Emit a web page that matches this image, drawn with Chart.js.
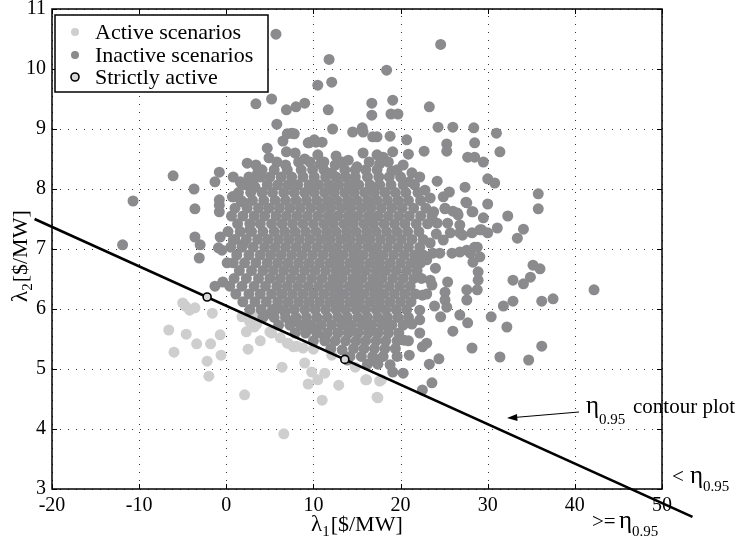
<!DOCTYPE html>
<html>
<head>
<meta charset="utf-8">
<script src="https://cdn.jsdelivr.net/npm/chart.js@4/dist/chart.umd.min.js"></script>
<style>
  html, body { margin: 0; padding: 0; background: #fff; }
  #wrap { width: 739px; height: 543px; }
</style>
</head>
<body>
<div id="wrap"><canvas id="chart" width="739" height="543"></canvas></div>
<script>
// Axis ticks
const xTicks = [-20, -10, 0, 10, 20, 30, 40, 50];
const yTicks = [3, 4, 5, 6, 7, 8, 9, 10, 11];

// Inactive scenarios: scattered points around the cloud
const inactiveOuter = [
    [5.7,10.58],[11.8,10.16],[10.5,9.73],[12.1,9.78],[3.4,9.42],[5.2,9.5],[6.9,9.32],[8.0,9.37],
    [9.0,9.43],[11.7,9.32],[5.8,9.08],[12.2,9.0],[14.5,8.95],[15.6,9.02],[7.0,8.92],[7.8,8.92],
    [6.5,8.8],[4.7,8.68],[9.5,8.77],[10.3,8.78],[11.0,8.78],[6.9,8.62],[7.9,8.6],[10.5,8.57],
    [2.4,8.43],[5.8,8.45],[-6.1,8.22],[-0.8,8.28],[-3.7,8.0],[-1.3,8.12],[0.8,8.2],[1.6,8.12],
    [3.4,8.4],[3.6,8.27],[-10.7,7.8],[-3.6,7.67],[-0.8,7.82],[-0.8,7.73],[-0.8,7.62],[0.8,7.87],
    [1.9,7.78],[-11.9,7.07],[-3.6,7.2],[-3.0,7.07],[-3.1,6.85],[-0.7,7.2],[-0.9,7.02],[0.1,6.77],
    [0.8,7.15],[1.9,7.07],[2.7,7.32],[-1.3,6.38],[-0.4,6.45],[-0.5,6.98],
    [7.5,8.93],[10.1,8.82],[9.4,8.77],[14.0,8.48],[15.0,8.37],[12.5,8.4],[12.1,8.27],[1.7,8.1],
    [3.3,8.03],[0.7,7.87],[15.7,8.95],[16.8,8.87],[15.7,8.6],[17.3,8.57],[18.0,8.53],
    [24.6,10.41],[18.4,9.98],[19.1,9.48],[18.9,9.25],[19.7,9.25],[23.3,9.37],[16.7,9.43],[16.7,9.23],
    [24.3,9.03],[26.0,9.03],[28.4,9.02],[31.0,8.93],[18.8,8.88],[17.3,8.87],[20.7,8.82],[25.3,8.75],
    [25.3,8.63],[28.5,8.77],[22.7,8.63],[20.9,8.58],[19.1,8.62],[31.4,8.62],[27.7,8.53],[28.5,8.53],
    [29.5,8.45],[20.3,8.4],[21.3,8.27],[22.2,8.2],[24.2,8.13],[30.0,8.17],[30.8,8.1],[27.4,8.03],
    [25.6,7.95],[24.9,7.87],[35.8,7.92],[35.8,7.67],[23.4,7.85],[27.5,7.78],[30.0,7.75],[25.1,7.67],
    [26.0,7.63],[26.6,7.57],[28.2,7.62],[32.3,7.55],[29.5,7.52],[25.4,7.43],[34.1,7.33],[33.4,7.18],
    [31.1,7.35],[29.3,7.32],[30.0,7.27],[26.8,7.4],[27.1,7.23],[28.8,7.03],[28.0,6.93],[35.2,6.73],
    [36.0,6.67],[32.9,6.48],[34.9,6.53],
    [25.1,7.68],[26.5,7.6],[27.6,7.77],[28.3,7.62],[29.1,7.32],[28.2,7.27],[26.8,7.27],[24.2,7.43],
    [25.7,7.27],[24.9,7.15],[23.4,7.1],[23.7,6.93],[24.5,6.93],[25.9,6.93],[26.8,6.95],[27.6,6.98],
    [28.5,7.03],[29.1,6.87],[28.3,6.78],[28.9,6.62],[28.9,6.48],[28.8,6.32],[27.6,6.32],[27.6,6.15],
    [25.4,6.45],[25.1,6.28],[25.1,6.15],[25.3,6.03],[23.0,6.82],[24.0,6.68],[23.4,6.48],[23.6,6.4],
    [22.5,6.23],[22.2,5.98],[22.2,5.82],
    [42.2,6.32],[37.5,6.17],[36.2,6.13],[32.9,6.13],[31.8,6.05],[34.1,6.42],[30.4,5.87],[32.2,5.7],
    [36.2,5.38],[31.4,5.2],[34.7,5.15],[28.2,5.35],[27.7,5.77],[26.8,5.9],[26.0,5.63],[24.6,5.87],
    [24.4,5.17],[23.3,5.08],[23.6,4.77],[22.5,4.65],
    [21.0,5.23],[20.3,4.93],[19.1,4.95],[18.8,5.07],[17.3,5.1],[23.0,5.43],[22.5,5.37],[22.2,5.6],
    [9.0,5.7],[7.9,5.82],[10.2,5.65],[11.3,5.53],[13.3,5.32],[4.4,5.9],[5.6,5.98],[6.7,5.95],
    [4.9,8.52],[6.8,8.4],[9.0,8.5],[10.8,8.42],[12.6,8.55],[17.6,8.42],[19.0,8.3],[3.1,8.15],
    [21.0,8.12],[22.8,7.98],[23.8,7.62],[24.1,7.25],[23.9,6.05],[21.3,5.75],[20.4,5.48],[13.9,5.15]
];

// Inactive scenarios: dense core, read row by row (lambda2 level, lambda1 values)
const coreRowY = [8.45, 8.32, 8.2, 8.07, 7.94, 7.81, 7.68, 7.55, 7.42, 7.29, 7.16, 7.03, 6.9,
                  6.77, 6.64, 6.51, 6.38, 6.25, 6.12, 5.99, 5.86, 5.73, 5.6, 5.47, 5.34, 5.21, 5.08];
const coreRowX = [
    [8.3, 9.6, 11.2, 13.3, 16.4, 18.6],
    [4.1, 5.5, 7.0, 8.6, 9.9, 11.2, 13.6, 14.8, 16.0, 17.3, 19.6],
    [2.6, 3.9, 5.0, 6.3, 7.5, 8.8, 10.1, 11.4, 12.6, 13.7, 14.8, 16.2, 17.5, 18.7, 20.0],
    [2.2, 4.7, 5.9, 7.1, 8.2, 9.5, 10.6, 11.8, 12.9, 14.1, 15.2, 16.5, 17.6, 18.9, 20.3, 21.6],
    [1.4, 2.8, 4.1, 5.3, 6.6, 7.8, 9.0, 10.1, 11.3, 12.4, 13.6, 14.7, 15.9, 17.0, 18.2, 19.4, 20.6, 22.0],
    [1.7, 3.0, 4.3, 5.6, 6.8, 8.0, 9.2, 10.4, 11.6, 12.7, 13.9, 15.0, 16.2, 17.3, 18.5, 19.7, 20.9, 22.3],
    [1.0, 2.4, 3.7, 4.9, 6.1, 7.3, 8.5, 9.7, 10.9, 12.0, 13.2, 14.3, 15.5, 16.6, 17.8, 19.0, 20.2, 21.5, 22.9],
    [0.6, 1.9, 3.2, 4.4, 5.7, 6.9, 8.1, 9.3, 10.5, 11.7, 12.8, 14.0, 15.1, 16.3, 17.4, 18.6, 19.8, 21.0, 22.3, 23.6],
    [1.3, 2.7, 3.9, 5.2, 6.4, 7.6, 8.8, 10.0, 11.2, 12.3, 13.5, 14.6, 15.8, 16.9, 18.1, 19.3, 20.5, 21.8, 23.1],
    [0.2, 1.6, 2.9, 4.2, 5.5, 6.7, 7.9, 9.1, 10.3, 11.5, 12.6, 13.8, 14.9, 16.1, 17.2, 18.4, 19.6, 20.8, 22.1],
    [1.0, 2.3, 3.6, 4.8, 6.0, 7.2, 8.4, 9.6, 10.8, 11.9, 13.1, 14.2, 15.4, 16.5, 17.7, 18.9, 20.1, 21.3, 22.6],
    [0.5, 1.8, 3.1, 4.4, 5.6, 6.8, 8.0, 9.2, 10.4, 11.6, 12.7, 13.9, 15.0, 16.2, 17.3, 18.5, 19.7, 20.9, 22.2],
    [1.2, 2.6, 3.9, 5.1, 6.3, 7.5, 8.7, 9.9, 11.1, 12.3, 13.4, 14.6, 15.7, 16.9, 18.0, 19.2, 20.4, 21.6, 22.6],
    [0.8, 2.1, 3.4, 4.7, 5.9, 7.1, 8.3, 9.5, 10.7, 11.9, 13.0, 14.2, 15.3, 16.5, 17.6, 18.8, 20.0, 21.2, 22.3],
    [1.5, 2.9, 4.2, 5.4, 6.6, 7.8, 9.0, 10.2, 11.4, 12.6, 13.7, 14.9, 16.0, 17.2, 18.3, 19.5, 20.7, 21.9],
    [0.9, 2.3, 3.7, 5.0, 6.2, 7.4, 8.6, 9.8, 11.0, 12.2, 13.3, 14.5, 15.6, 16.8, 17.9, 19.1, 20.3, 21.5, 22.4],
    [0.4, 1.8, 3.2, 4.5, 5.8, 7.0, 8.2, 9.4, 10.6, 11.8, 12.9, 14.1, 15.2, 16.4, 17.5, 18.7, 19.9, 21.1],
    [1.1, 2.6, 3.9, 5.2, 6.4, 7.6, 8.8, 10.0, 11.2, 12.4, 13.5, 14.7, 15.8, 17.0, 18.1, 19.3, 20.5, 21.7, 23.0],
    [1.9, 3.3, 4.6, 5.9, 7.1, 8.3, 9.5, 10.7, 11.9, 13.0, 14.2, 15.3, 16.5, 17.6, 18.8, 20.0, 21.2],
    [2.7, 4.0, 5.3, 6.6, 7.8, 9.0, 10.2, 11.4, 12.6, 13.7, 14.9, 16.0, 17.2, 18.3, 19.5, 20.7],
    [4.2, 5.5, 6.8, 8.0, 9.2, 10.4, 11.6, 12.8, 13.9, 15.1, 16.2, 17.4, 18.5, 19.7, 20.9],
    [6.0, 7.3, 8.5, 9.7, 10.9, 12.1, 13.3, 14.4, 15.6, 16.7, 17.9, 19.0, 20.3],
    [7.9, 9.1, 10.4, 11.6, 12.8, 14.0, 15.1, 16.3, 17.4, 18.6, 19.8],
    [10.0, 11.3, 12.5, 13.7, 14.9, 16.0, 17.2, 18.3, 19.6, 20.9],
    [12.0, 14.6, 15.8, 17.0, 18.2, 19.4],
    [14.2, 15.5, 16.8, 18.0, 19.6],
    [16.2, 17.4]
];

// Active scenarios (below the contour)
const activePts = [
    [-5.0,6.1],[-4.2,5.98],[-3.6,6.02],[-4.7,6.05],[-1.6,5.93],[-6.6,5.65],[-4.6,5.58],[-3.4,5.42],
    [-1.8,5.42],[-0.7,5.57],[-0.6,5.23],[-6.0,5.28],[-2.2,5.13],[-2.0,4.88],
    [2.1,4.57],[6.6,3.92],[6.4,5.03],[11.0,4.48],[9.4,4.75],[9.0,5.1],[9.8,4.95],[10.5,4.82],
    [11.3,4.93],[12.9,4.73],[2.5,5.33],[2.3,5.62],[3.9,5.47],[3.2,5.7],[1.8,5.87],[5.2,5.6],
    [6.2,5.52],[7.1,5.43],[8.1,5.38],[8.8,5.35],[10.0,5.33],[12.1,5.23],[14.8,5.03],[2.7,5.78],
    [3.5,5.75],[5.0,5.62],[7.0,5.43],[7.7,5.37],[3.1,5.9],[16.0,4.82],[17.6,4.8],[17.3,4.53],
    [16.1,4.82],[17.8,4.82],[17.4,4.52]
];

// Strictly active points and the eta_0.95 contour line
const strictX = [-2.2, 13.6];
const strictY = [6.2, 5.16];
const contourX = [-22, 53.5];
const contourY = [7.5, 2.535];

const inactiveData = inactiveOuter.map(p => ({ x: p[0], y: p[1] }));
coreRowY.forEach((y, i) => {
    coreRowX[i].forEach(x => inactiveData.push({ x, y }));
});
const activeData = activePts.map(p => ({ x: p[0], y: p[1] }));

const SERIF = "'Liberation Serif', 'DejaVu Serif', serif";
const INACTIVE = "#8b8b8e";
const ACTIVE = "#cecece";

// text with a lowered subscript, returns end x
function drawSub(ctx, x, y, main, sub, size, subSize, drop) {
    ctx.font = `${size}px ${SERIF}`;
    ctx.fillText(main, x, y);
    x += ctx.measureText(main).width;
    ctx.font = `${subSize}px ${SERIF}`;
    ctx.fillText(sub, x, y + drop);
    return x + ctx.measureText(sub).width;
}

const decorPlugin = {
    id: "decor",
    // dotted grid under the points
    beforeDatasetsDraw(chart) {
        const ctx = chart.ctx;
        const a = chart.chartArea;
        const xs = chart.scales.x;
        const ys = chart.scales.y;
        ctx.save();
        ctx.strokeStyle = "#333";
        ctx.lineWidth = 1;
        ctx.setLineDash([1, 7]);
        ctx.beginPath();
        xTicks.forEach(v => {
            const px = Math.round(xs.getPixelForValue(v)) + 0.5;
            ctx.moveTo(px, a.bottom); ctx.lineTo(px, a.top);
        });
        yTicks.forEach(v => {
            const py = Math.round(ys.getPixelForValue(v)) + 0.5;
            ctx.moveTo(a.left, py); ctx.lineTo(a.right, py);
        });
        ctx.stroke();
        ctx.restore();
    },
    afterDraw(chart) {
        const ctx = chart.ctx;
        const a = chart.chartArea;
        const xs = chart.scales.x;
        const ys = chart.scales.y;
        ctx.save();

        // inward ticks on all four sides
        ctx.strokeStyle = "#000";
        ctx.lineWidth = 1;
        ctx.beginPath();
        xTicks.forEach(v => {
            const px = Math.round(xs.getPixelForValue(v)) + 0.5;
            ctx.moveTo(px, a.bottom); ctx.lineTo(px, a.bottom - 5);
            ctx.moveTo(px, a.top); ctx.lineTo(px, a.top + 5);
        });
        yTicks.forEach(v => {
            const py = Math.round(ys.getPixelForValue(v)) + 0.5;
            ctx.moveTo(a.left, py); ctx.lineTo(a.left + 5, py);
            ctx.moveTo(a.right, py); ctx.lineTo(a.right - 5, py);
        });
        ctx.stroke();

        // plot box
        ctx.lineWidth = 1.5;
        ctx.strokeRect(a.left, a.top, a.right - a.left, a.bottom - a.top);

        // legend
        ctx.fillStyle = "#fff";
        ctx.fillRect(55, 15, 213, 77);
        ctx.strokeStyle = "#000";
        ctx.lineWidth = 1.5;
        ctx.strokeRect(55, 15, 213, 77);
        const rows = [
            { label: "Active scenarios", y: 32, fill: ACTIVE, ring: false },
            { label: "Inactive scenarios", y: 55, fill: INACTIVE, ring: false },
            { label: "Strictly active", y: 77, fill: "#d8d8d8", ring: true }
        ];
        ctx.textBaseline = "alphabetic";
        rows.forEach(r => {
            ctx.beginPath();
            ctx.arc(75, r.y, 4, 0, Math.PI * 2);
            ctx.fillStyle = r.fill;
            ctx.fill();
            if (r.ring) {
                ctx.lineWidth = 1.6;
                ctx.strokeStyle = "#000";
                ctx.stroke();
            }
            ctx.fillStyle = "#000";
            ctx.font = `22px ${SERIF}`;
            ctx.fillText(r.label, 95, r.y + 7);
        });

        // axis titles
        ctx.fillStyle = "#000";
        let x = drawSub(ctx, 311, 531, "\u03bb", "1", 23, 15, 5);
        ctx.font = `22px ${SERIF}`;
        ctx.fillText("[$/MW]", x + 1, 531);

        ctx.save();
        ctx.translate(27, 302);
        ctx.rotate(-Math.PI / 2);
        x = drawSub(ctx, 0, 0, "\u03bb", "2", 23, 15, 5);
        ctx.font = `22px ${SERIF}`;
        ctx.fillText("[$/MW]", x + 1, 0);
        ctx.restore();

        // contour annotation and arrow
        drawSub(ctx, 586, 413, "\u03b7", "0.95", 25, 15, 11);
        ctx.font = `21px ${SERIF}`;
        ctx.fillText("contour plot", 633, 413);

        ctx.strokeStyle = "#000";
        ctx.lineWidth = 1;
        ctx.beginPath();
        ctx.moveTo(579, 412);
        ctx.lineTo(514, 417.5);
        ctx.stroke();
        ctx.beginPath();
        ctx.moveTo(507, 418);
        ctx.lineTo(517, 414);
        ctx.lineTo(517.5, 421);
        ctx.closePath();
        ctx.fill();

        // region labels
        ctx.font = `21px ${SERIF}`;
        ctx.fillText("<", 672, 483);
        drawSub(ctx, 690, 483, "\u03b7", "0.95", 25, 15, 8);
        ctx.font = `21px ${SERIF}`;
        ctx.fillText(">=", 592, 528);
        drawSub(ctx, 619, 528, "\u03b7", "0.95", 25, 15, 8);

        ctx.restore();
    }
};

new Chart(document.getElementById("chart"), {
    type: "scatter",
    data: {
        datasets: [
            {
                label: "Strictly active",
                data: strictX.map((v, i) => ({ x: v, y: strictY[i] })),
                pointRadius: 4,
                pointBackgroundColor: "#d8d8d8",
                pointBorderColor: "#000",
                pointBorderWidth: 1.6
            },
            {
                label: "contour",
                data: contourX.map((v, i) => ({ x: v, y: contourY[i] })),
                showLine: true,
                borderColor: "#000",
                borderWidth: 2.6,
                pointRadius: 0,
                clip: false
            },
            {
                label: "Inactive scenarios",
                data: inactiveData,
                pointRadius: 5.5,
                pointBackgroundColor: INACTIVE,
                pointBorderWidth: 0
            },
            {
                label: "Active scenarios",
                data: activeData,
                pointRadius: 5.5,
                pointBackgroundColor: ACTIVE,
                pointBorderWidth: 0
            }
        ]
    },
    options: {
        responsive: false,
        animation: false,
        layout: { padding: { left: 0, top: 9, right: 77, bottom: 0 } },
        plugins: {
            legend: { display: false },
            tooltip: { enabled: false }
        },
        scales: {
            x: {
                type: "linear",
                min: -20,
                max: 50,
                afterFit: (s) => { s.height = 54; s.paddingLeft = 0; s.paddingRight = 0; },
                afterBuildTicks: (s) => { s.ticks = xTicks.map(v => ({ value: v })); },
                ticks: {
                    color: "#000",
                    padding: 5,
                    maxRotation: 0,
                    font: { family: SERIF, size: 20 }
                },
                grid: { display: false, drawTicks: false },
                border: { display: false }
            },
            y: {
                type: "linear",
                min: 3,
                max: 11,
                afterFit: (s) => { s.width = 52; s.paddingTop = 0; s.paddingBottom = 0; },
                afterBuildTicks: (s) => { s.ticks = yTicks.map(v => ({ value: v })); },
                ticks: {
                    color: "#000",
                    padding: 6,
                    font: { family: SERIF, size: 20 }
                },
                grid: { display: false, drawTicks: false },
                border: { display: false }
            }
        }
    },
    plugins: [decorPlugin]
});
</script>
</body>
</html>
